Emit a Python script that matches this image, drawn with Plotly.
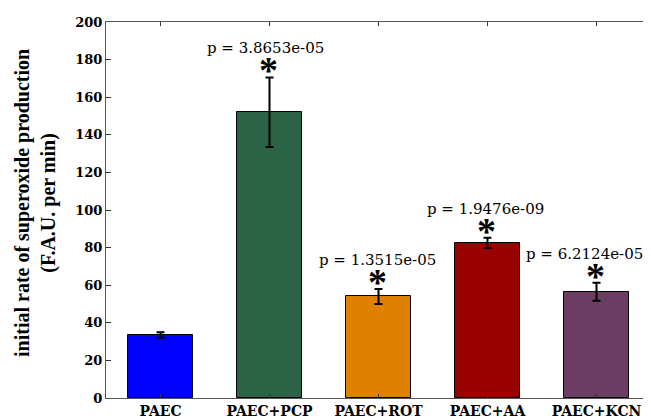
import plotly.graph_objects as go

categories = ["PAEC", "PAEC+PCP", "PAEC+ROT", "PAEC+AA", "PAEC+KCN"]
means = [33.5, 152.0, 54.0, 82.5, 56.5]
errors = [1.5, 18.5, 4.0, 2.7, 4.8]
colors = ["#0000FF", "#2B6347", "#E08000", "#990000", "#6B3D62"]
p_labels = [None, "p = 3.8653e-05", "p = 1.3515e-05", "p = 1.9476e-09", "p = 6.2124e-05"]
y_ticks = [0, 20, 40, 60, 80, 100, 120, 140, 160, 180, 200]

xpos = list(range(1, len(categories) + 1))
SERIF_WIDE = "DejaVu Serif"
SERIF = "Liberation Serif"

fig = go.Figure()
fig.add_trace(go.Bar(
    x=xpos, y=means, width=0.6,
    marker=dict(color=colors, line=dict(color="black", width=1)),
    error_y=dict(type="data", array=errors, color="black", thickness=2, width=4),
))

p_xshift = [0, -4, -1, -2, -12]
for i, (x, m, e, lab) in enumerate(zip(xpos, means, errors, p_labels)):
    if lab is None:
        continue
    fig.add_annotation(x=x, y=m + e, text="<b>*</b>", showarrow=False,
                       font=dict(family=SERIF, size=38, color="black"),
                       yanchor="middle", yshift=7, xshift=-1)
    fig.add_annotation(x=x, y=m + e, text=lab, showarrow=False,
                       font=dict(family=SERIF_WIDE, size=15, color="black"),
                       yanchor="middle", yshift=29, xshift=p_xshift[i])

fig.add_annotation(xref="paper", yref="paper", x=-0.1303, y=0.5186,
                   text="<b>initial rate of superoxide production</b><br><b>(F.A.U. per min)</b>",
                   textangle=-90, showarrow=False,
                   font=dict(family=SERIF, size=20, color="black"),
                   xanchor="center", yanchor="middle")

fig.update_layout(
    width=651, height=419,
    margin=dict(l=98, r=8, t=14, b=29),
    plot_bgcolor="white", paper_bgcolor="white",
    showlegend=False,
    bargap=0,
)
fig.update_xaxes(
    range=[0.5, 5.5], tickmode="array", tickvals=xpos,
    ticktext=["<b>%s</b>" % c for c in categories],
    ticks="inside", ticklen=4, tickcolor="#333", mirror="ticks",
    showline=True, linecolor="#555", linewidth=1,
    tickfont=dict(family=SERIF_WIDE, size=14, color="black"),
    showgrid=False, zeroline=False,
)
fig.update_yaxes(
    range=[0, 200], tickmode="array", tickvals=y_ticks,
    ticktext=["<b>%d</b>" % v for v in y_ticks],
    ticks="inside", ticklen=5, tickcolor="#333", mirror="ticks",
    showline=True, linecolor="#555", linewidth=1,
    tickfont=dict(family=SERIF_WIDE, size=13, color="black"),
    showgrid=False, zeroline=False,
)

fig.write_html("out.html")
